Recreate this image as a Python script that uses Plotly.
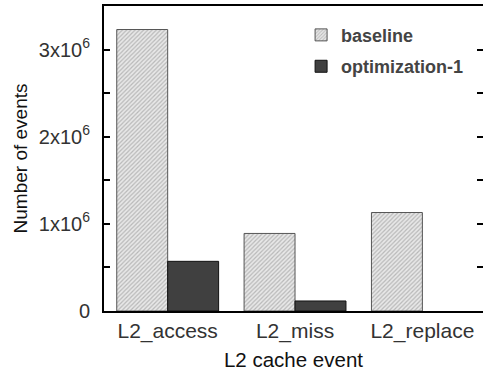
import plotly.graph_objects as go

categories = ["L2_access", "L2_miss", "L2_replace"]
baseline = [3.23e6, 0.89e6, 1.13e6]
optimization_1 = [0.57e6, 0.115e6, 0.0]
y_tickvals = [0, 1e6, 2e6, 3e6]
y_ticktext = ["0", "1x10<sup>6</sup>", "2x10<sup>6</sup>", "3x10<sup>6</sup>"]

FONT = "Liberation Sans, Arial, Helvetica, sans-serif"

fig = go.Figure()
fig.add_trace(go.Bar(
    x=categories, y=baseline, name="<b>baseline</b>", legendgroup="a",
    marker=dict(color="#e6e6e6",
                line=dict(color="#555555", width=1),
                pattern=dict(shape="/", fgcolor="#888888", bgcolor="#e8e8e8",
                             size=3, solidity=0.4)),
))
fig.add_trace(go.Bar(
    x=categories, y=optimization_1, name="<b>optimization-1</b>", legendgroup="b",
    marker=dict(color="#404040",
                line=dict(color="#111111", width=[1 if v > 0 else 0 for v in optimization_1])),
))

fig.update_layout(
    width=483, height=373,
    margin=dict(l=104, r=0, t=6, b=62),
    paper_bgcolor="white", plot_bgcolor="white",
    barmode="group", bargap=0.2, bargroupgap=0,
    font=dict(family=FONT, size=20, color="#222222"),
    showlegend=True,
    legend=dict(x=0.52, y=0.965, xanchor="left", yanchor="top",
                bgcolor="rgba(0,0,0,0)", font=dict(size=18, color="#444444"),
                itemwidth=30, traceorder="grouped", tracegroupgap=5),
    xaxis=dict(
        range=[-0.5, 2.476], showline=True, linecolor="black", linewidth=2,
        mirror=True, ticks="", showgrid=False,
        title=dict(text="L2 cache event", font=dict(size=20.5, color="#111111"), standoff=10),
        tickfont=dict(size=21, color="#333333"),
    ),
    yaxis=dict(
        range=[0, 3.5e6], showline=True, linecolor="black", linewidth=2,
        ticks="inside", ticklen=6, tickwidth=1.5, tickcolor="black",
        tickvals=y_tickvals, ticktext=y_ticktext, showgrid=False, zeroline=False,
        minor=dict(ticks="inside", ticklen=6, tickwidth=1.5, tickcolor="black", dtick=5e5, tick0=0),
        ticklabelstandoff=8,
        title=dict(text="Number of events", font=dict(size=19, color="#111111"), standoff=6),
        tickfont=dict(size=20, color="#333333"),
    ),
    yaxis2=dict(
        overlaying="y", side="right", range=[0, 3.5e6], showline=False,
        ticks="inside", ticklen=6, tickwidth=1.5, tickcolor="black",
        tickvals=[0.5e6 * i for i in range(1, 7)], showticklabels=False,
        showgrid=False, zeroline=False,
    ),
)
fig.add_trace(go.Scatter(x=[None], y=[None], yaxis="y2", showlegend=False, hoverinfo="skip"))

fig.write_html("out.html")
